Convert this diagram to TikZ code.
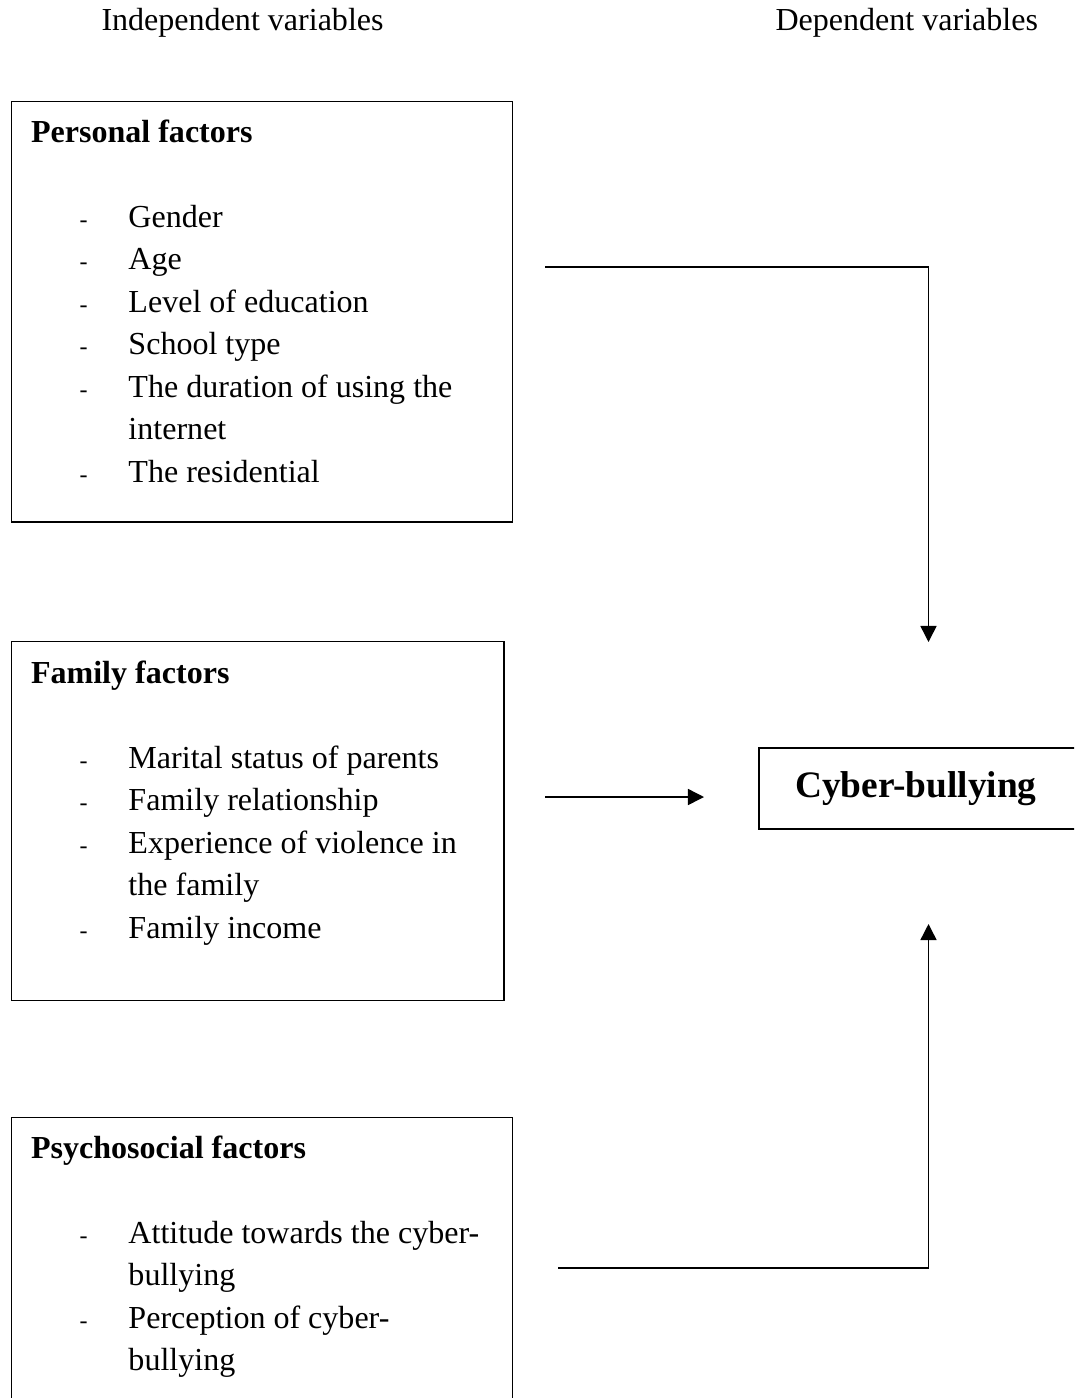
\documentclass[tikz,border=0pt]{standalone}
\usepackage{fontspec}
\setmainfont{Liberation Serif}
\usetikzlibrary{positioning,arrows.meta}

\newcommand{\factoritem}[1]{\hspace*{18.2pt}\makebox[18.3pt][l]{\fontsize{9pt}{9pt}\selectfont -}#1}
\newcommand{\factorcont}[1]{\hspace*{36.5pt}#1}

\begin{document}
\begin{tikzpicture}[
    x=0.3745pt, y=-0.3745pt,
    factorbox/.style={rectangle, draw, line width=0.55pt, inner sep=0pt, anchor=north west},
    factortext/.style={anchor=north west, inner sep=0pt, align=left,
        font=\fontsize{12pt}{15.9pt}\selectfont},
    headtext/.style={anchor=base west, inner sep=0pt, font=\fontsize{12pt}{15.9pt}\selectfont},
    outcome/.style={rectangle, draw, line width=0.55pt, inner xsep=13.5pt, inner ysep=0pt,
        text width=92.5pt, align=left, minimum height=30.3pt,
        font=\fontsize{14pt}{16pt}\selectfont\bfseries},
    flow/.style={line width=0.55pt, -{Triangle[length=6pt, width=6pt]}}
]
\useasboundingbox (0,0) rectangle (1074,1398);
\clip (0,0) rectangle (1074,1398);

\node[headtext] (indep) at (101,30) {Independent variables};
\node[headtext] (dep) at (775,30) {Dependent variables};

\node[factorbox, minimum width=187.6pt, minimum height=157.3pt] (personal) at (11,101) {};
\node[factortext] (personaltext) at (30.5,112.3) {\strut\textbf{Personal factors}\\ \mbox{}\\
    \factoritem{Gender}\\
    \factoritem{Age}\\
    \factoritem{Level of education}\\
    \factoritem{School type}\\
    \factoritem{The duration of using the}\\
    \factorcont{internet}\\
    \factoritem{The residential}};

\node[factorbox, minimum width=184.3pt, minimum height=134.4pt] (family) at (11,641) {};
\node[factortext] (familytext) at (30.5,653.3) {\strut\textbf{Family factors}\\ \mbox{}\\
    \factoritem{Marital status of parents}\\
    \factoritem{Family relationship}\\
    \factoritem{Experience of violence in}\\
    \factorcont{the family}\\
    \factoritem{Family income}};

\node[factorbox, minimum width=187.6pt, minimum height=113.5pt] (psycho) at (11,1117) {};
\node[factortext] (psychotext) at (30.5,1128.3) {\strut\textbf{Psychosocial factors}\\ \mbox{}\\
    \factoritem{Attitude towards the cyber-}\\
    \factorcont{bullying}\\
    \factoritem{Perception of cyber-}\\
    \factorcont{bullying}};

\node[outcome] (cyber) at (918.5,788.5) {Cyber-bullying};

\coordinate (personalfrom) at (545,267);
\coordinate (personalto) at (928.5,642);
\coordinate (familyfrom) at (545,797);
\coordinate (familyto) at (704,797);
\coordinate (psychofrom) at (558,1268);
\coordinate (psychoto) at (928.5,924);

\draw[flow] (personalfrom) -| (personalto);
\draw[flow] (familyfrom) -- (familyto);
\draw[flow] (psychofrom) -| (psychoto);
\end{tikzpicture}
\end{document}
